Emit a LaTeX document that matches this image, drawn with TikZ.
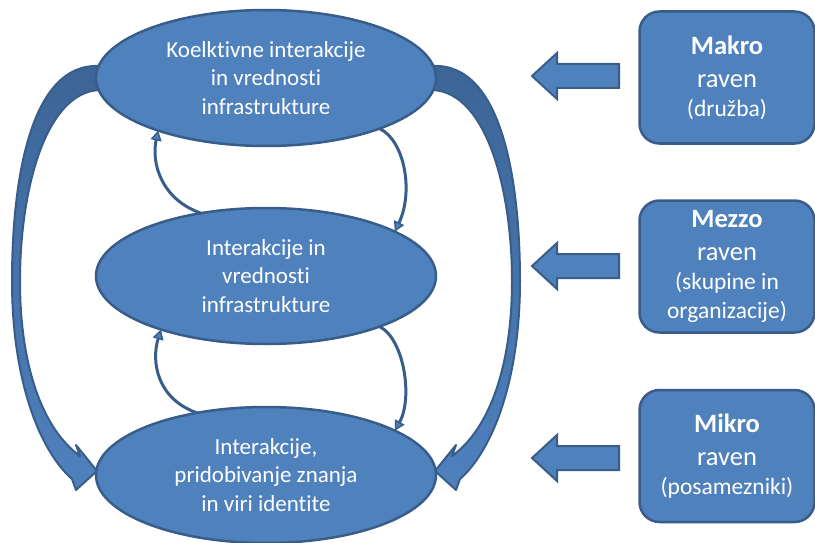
\documentclass[tikz,border=0pt]{standalone}
\usepackage{fontspec}
\setmainfont[Ligatures=NoCommon]{Carlito}
\usetikzlibrary{arrows.meta,shapes.geometric,backgrounds}
\definecolor{fillblue}{HTML}{4F81BD}
\definecolor{edgeblue}{HTML}{385D8A}
\definecolor{darkband}{HTML}{3C6596}
\newcommand\smalltxt{\fontsize{23.5}{28.5}\selectfont}
\begin{document}
\begin{tikzpicture}[x=1pt,y=-1pt,
  ell/.style={ellipse, draw=edgeblue, fill=fillblue, line width=2.5pt,
    minimum width=340pt, minimum height=136pt, inner sep=0pt, outer sep=0pt,
    text=white, align=center, font=\fontsize{23}{28.5}\selectfont},
  levelbox/.style={rectangle, rounded corners=20pt, draw=edgeblue, fill=fillblue,
    line width=2.5pt, minimum width=175pt, minimum height=132pt, inner sep=0pt,
    text=white, align=center, font=\fontsize{26.5}{33}\selectfont},
  loopedge/.style={draw=edgeblue, line width=3pt,
    -{Triangle[length=10pt,width=11pt,fill=fillblue,line width=1.5pt]}},
  blockarrow/.style={draw=edgeblue, fill=fillblue, line width=2pt, line join=miter},
  bigarrow/.style={draw=edgeblue, line width=2pt, line join=round,
    top color=darkband, bottom color=fillblue}
]
\useasboundingbox (0,0) rectangle (815,543);

\node[ell] (e1) at (266,78) {Koelktivne interakcije\\in vrednosti\\infrastrukture};
\node[ell] (e2) at (266,276) {Interakcije in\\vrednosti\\infrastrukture};
\node[ell] (e3) at (266,475) {Interakcije,\\pridobivanje znanja\\in viri identite};

\node[levelbox] (b1) at (727,77.5) {\textbf{Makro}\\raven\\[-4pt]{\smalltxt (družba)}};
\node[levelbox] (b2) at (727,266.5) {\textbf{Mezzo}\\raven\\[-4pt]{\smalltxt (skupine in}\\[-4.5pt]{\smalltxt organizacije)}};
\node[levelbox] (b3) at (727,456) {\textbf{Mikro}\\raven\\[-4pt]{\smalltxt (posamezniki)}};

\foreach \yy in {76,266,458}{
  \draw[blockarrow, shift={(532,\yy)}] (0,0) -- (25,-23) -- (25,-12) -- (87,-12)
    -- (87,12) -- (25,12) -- (25,23) -- cycle;
}

\draw[loopedge] (e2.136) .. controls +(-40,-14) and +(-7,32) .. (e1.206);
\draw[loopedge] (e1.336) .. controls +(25,12) and +(19,-40) .. (e2.19);
\draw[loopedge] (e3.138) .. controls +(-40,-14) and +(-10,32) .. (e2.207);
\draw[loopedge] (e2.336) .. controls +(25,13) and +(18,-32) .. (e3.19);

\begin{scope}[on background layer]
  \begin{scope}[shift={(e1.west)}]
    \path[bigarrow] (3,-12) .. controls (-66,-15) and (-84,103) .. (-84,203)
      .. controls (-84,303) and (-56,373) .. (-24,401) -- (-20,412) -- (1,393)
      -- (-20,367) -- (-16,378) .. controls (-51,353) and (-76,293) .. (-76,203)
      .. controls (-76,113) and (-51,15) .. (3,12) -- cycle;
  \end{scope}
  \begin{scope}[shift={(e1.east)}, xscale=-1]
    \path[bigarrow] (3,-12) .. controls (-66,-15) and (-84,103) .. (-84,203)
      .. controls (-84,303) and (-56,373) .. (-24,401) -- (-20,412) -- (1,393)
      -- (-20,367) -- (-16,378) .. controls (-51,353) and (-76,293) .. (-76,203)
      .. controls (-76,113) and (-51,15) .. (3,12) -- cycle;
  \end{scope}
\end{scope}
\end{tikzpicture}
\end{document}
